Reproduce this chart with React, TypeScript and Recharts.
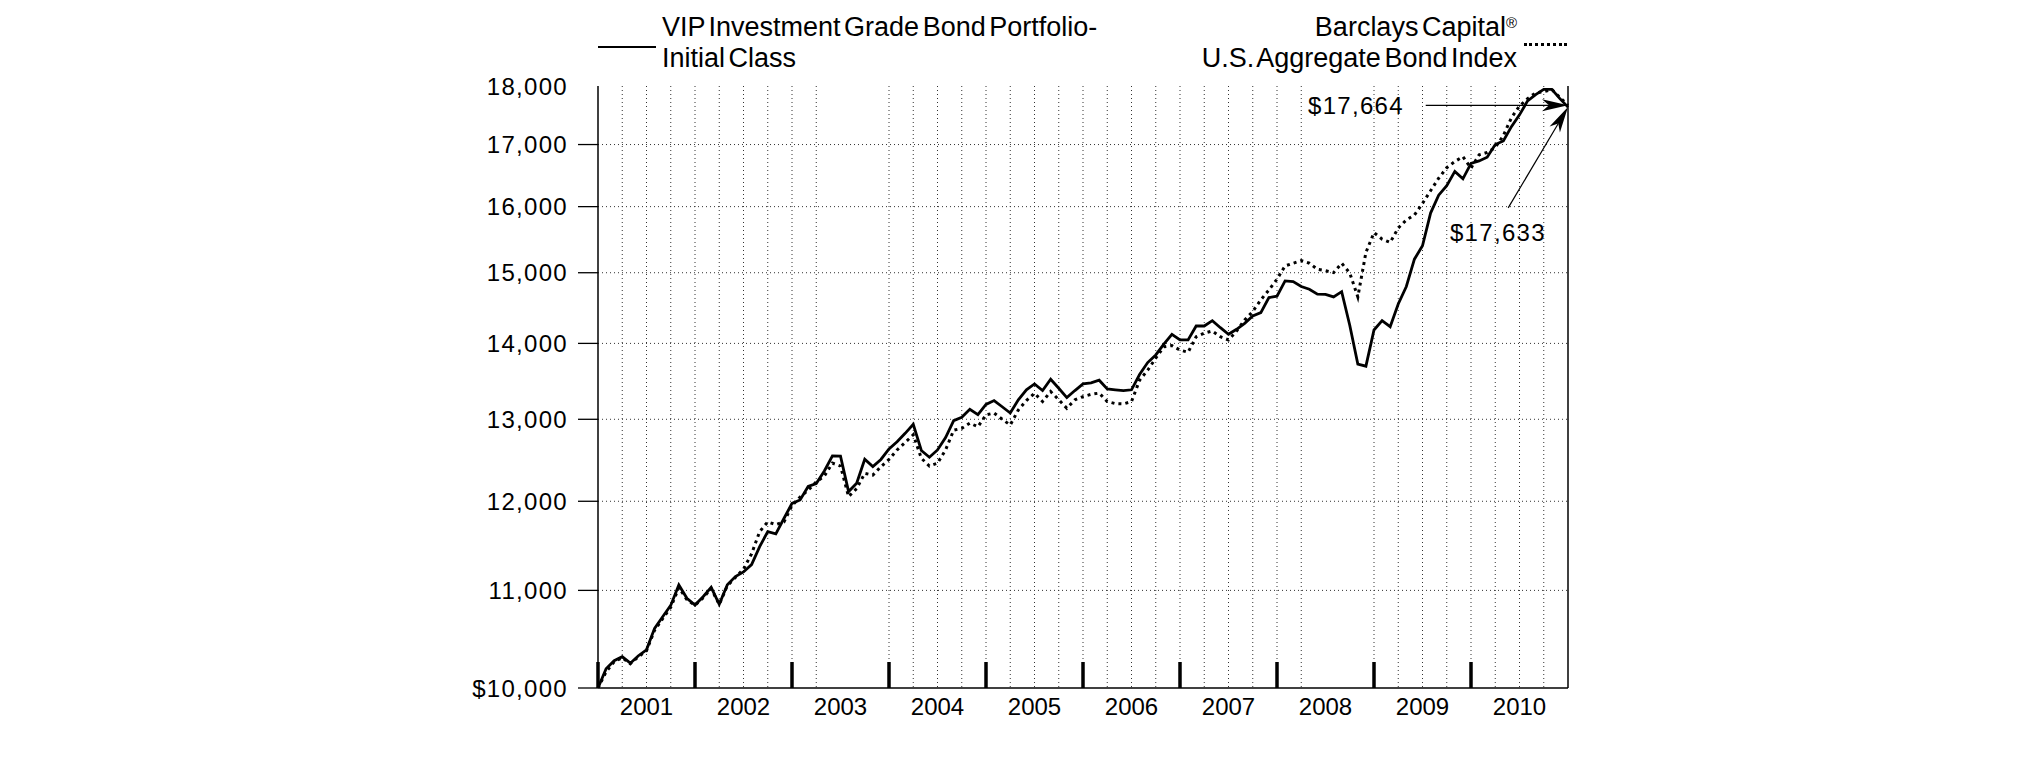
import { LineChart, Line, XAxis, YAxis, CartesianGrid, ReferenceLine, ReferenceDot } from 'recharts'

// month index 0 = Dec 2000 ... 120 = Dec 2010
const months = Array.from({ length: 121 }, (_, i) => i)

// VIP Investment Grade Bond Portfolio - Initial Class (growth of $10,000)
const vipValues = [
  10000, 10190, 10270, 10310, 10245, 10320, 10380, 10600, 10720, 10840, 11058, 10915,
  10844, 10932, 11033, 10852, 11060, 11150, 11200, 11280, 11480, 11649, 11623, 11800,
  11975, 12015, 12175, 12210, 12360, 12543, 12540, 12114, 12213, 12503, 12413, 12500,
  12630, 12719, 12823, 12937, 12610, 12527, 12617, 12770, 12983, 13026, 13128, 13060,
  13190, 13240, 13160, 13080, 13250, 13380, 13457, 13370, 13519, 13400, 13278, 13370,
  13457, 13470, 13506, 13392, 13380, 13370, 13380, 13580, 13740, 13843, 13990, 14125,
  14047, 14047, 14240, 14240, 14314, 14216, 14125, 14194, 14277, 14380, 14427, 14640,
  14660, 14881, 14870, 14800, 14760, 14690, 14687, 14650, 14725, 14250, 13720, 13692,
  14184, 14314, 14230, 14550, 14800, 15200, 15400, 15900, 16180, 16330, 16560, 16440,
  16690, 16730, 16790, 17000, 17060, 17300, 17500, 17740, 17850, 17940, 17940, 17780,
  17633,
]

// Barclays Capital U.S. Aggregate Bond Index
const aggValues = [
  10000, 10160, 10260, 10300, 10240, 10310, 10370, 10580, 10700, 10820, 11030, 10900,
  10840, 10920, 11020, 10850, 11050, 11140, 11230, 11400, 11650, 11760, 11730, 11760,
  11950, 12050, 12130, 12230, 12300, 12455, 12420, 12055, 12150, 12332, 12310, 12413,
  12500, 12617, 12710, 12805, 12515, 12420, 12455, 12617, 12862, 12885, 12951, 12905,
  13056, 13080, 13000, 12928, 13119, 13240, 13335, 13227, 13357, 13250, 13141, 13250,
  13291, 13320, 13337, 13227, 13200, 13197, 13227, 13506, 13638, 13799, 13953, 13970,
  13908, 13880, 14091, 14140, 14170, 14091, 14047, 14170, 14323, 14443, 14608, 14750,
  14906, 15100, 15140, 15179, 15140, 15051, 15030, 15001, 15140, 14996, 14650, 15300,
  15600, 15500, 15450, 15670, 15794, 15870, 16050, 16250, 16450, 16620, 16720, 16800,
  16613, 16830, 16870, 16950, 17150, 17450, 17650, 17780, 17880, 17900, 17940, 17800,
  17664,
]

const years = ['2001', '2002', '2003', '2004', '2005', '2006', '2007', '2008', '2009', '2010']
const yTicks = [10000, 11000, 12000, 13000, 14000, 15000, 16000, 17000, 18000]
const hGrid = [11000, 12000, 13000, 14000, 15000, 16000, 17000]
const skippedQuarters = [30, 33, 90, 93]
const vGrid = months.filter((m) => m > 0 && m < 120 && m % 3 === 0 && !skippedQuarters.includes(m))
const yearStarts = years.map((_, i) => i * 12)
const yearMids = years.map((_, i) => i * 12 + 6)

const data = months.map((m, i) => ({ m, vip: vipValues[i], agg: aggValues[i] }))

const FONT = "'Liberation Sans', Arial, Helvetica, sans-serif"

const fmt = (v: number) => {
  const s = String(v).replace(/\B(?=(\d{3})+(?!\d))/g, ',')
  return v === 10000 ? '$' + s : s
}

function YTick(props: any) {
  const { x, y, payload } = props
  const v = payload.value
  return (
    <g>
      {v !== 18000 && <line x1={x - 20} x2={x} y1={y} y2={y} stroke="#000" strokeWidth={1.3} />}
      <text x={x - 30} y={y} textAnchor="end" dominantBaseline="central" fontSize={24} letterSpacing={1.3} fill="#000" fontFamily={FONT}>
        {fmt(v)}
      </text>
    </g>
  )
}

function XTick(props: any) {
  const { x, y, payload } = props
  const idx = yearMids.indexOf(payload.value)
  return (
    <text x={x} y={y + 27} textAnchor="middle" fontSize={24} fill="#000" fontFamily={FONT}>
      {years[idx]}
    </text>
  )
}

// thick year separator ticks at bottom
function YearTick(props: any) {
  const { x1, y1, y2 } = props
  const yb = Math.max(y1, y2)
  return <line x1={x1} x2={x1} y1={yb - 26} y2={yb} stroke="#000" strokeWidth={3.5} />
}

function Arrow(props: any) {
  const { x1, y1, x2, y2 } = props
  const dx = x2 - x1
  const dy = y2 - y1
  const len = Math.hypot(dx, dy) || 1
  const ux = dx / len
  const uy = dy / len
  const L = 26
  const W = 6
  const N = 19
  const bx = x2 - ux * L
  const by = y2 - uy * L
  const nx = x2 - ux * N
  const ny = y2 - uy * N
  const px = -uy
  const py = ux
  const pts = `${x2},${y2} ${bx + px * W},${by + py * W} ${nx},${ny} ${bx - px * W},${by - py * W}`
  return (
    <g>
      <line x1={x1} y1={y1} x2={nx} y2={ny} stroke="#000" strokeWidth={1.2} />
      <polygon points={pts} fill="#000" />
    </g>
  )
}

const noteText = (label: string, anchor: 'start' | 'end') => (p: any) => (
  <text x={p.cx} y={p.cy} textAnchor={anchor} dominantBaseline="central" fontSize={24} letterSpacing={1.3} fill="#000" fontFamily={FONT}>
    {label}
  </text>
)

export default function App() {
  return (
    <div style={{ position: 'absolute', left: 0, top: 0, width: 2025, height: 761, background: '#fff', fontFamily: FONT }}>
      {/* legend */}
      <div style={{ position: 'absolute', left: 598, top: 46, width: 58, height: 0, borderTop: '2.5px solid #000' }} />
      <div style={{ position: 'absolute', left: 662, top: 12, fontSize: 27, lineHeight: '31px', color: '#000', wordSpacing: -4 }}>
        VIP Investment Grade Bond Portfolio-<br />Initial Class
      </div>
      <div style={{ position: 'absolute', right: 2025 - 1517, top: 12, fontSize: 27, lineHeight: '31px', color: '#000', textAlign: 'right', wordSpacing: -4 }}>
        Barclays Capital<sup style={{ fontSize: 15, verticalAlign: 'top', lineHeight: '22px' }}>®</sup>
        <br />U.S. Aggregate Bond Index
      </div>
      <div style={{ position: 'absolute', left: 1524, top: 43, width: 43, height: 0, borderTop: '3px dotted #000' }} />

      <LineChart width={2025} height={761} data={data} margin={{ top: 86, right: 457, bottom: 43, left: 538 }}>
        <CartesianGrid
          horizontalValues={hGrid}
          verticalValues={vGrid}
          stroke="#333"
          strokeDasharray="1 3"
          strokeWidth={1}
        />
        <XAxis
          dataKey="m"
          type="number"
          domain={[0, 120]}
          ticks={yearMids}
          interval={0}
          height={30}
          tickLine={false}
          tickSize={0}
          tickMargin={0}
          axisLine={{ stroke: '#000', strokeWidth: 1.5 }}
          tick={<XTick />}
        />
        <YAxis
          type="number"
          scale="log"
          domain={[10000, 18000]}
          allowDataOverflow
          ticks={yTicks}
          interval={0}
          width={60}
          tickLine={false}
          tickSize={0}
          tickMargin={0}
          axisLine={{ stroke: '#000', strokeWidth: 1.5 }}
          tick={<YTick />}
        />
        <Line type="linear" dataKey="agg" stroke="#000" strokeWidth={3} strokeDasharray="3 4" dot={false} isAnimationActive={false} />
        <Line type="linear" dataKey="vip" stroke="#000" strokeWidth={2.8} dot={false} isAnimationActive={false} />
        <ReferenceLine x={120} stroke="#000" strokeWidth={1.5} ifOverflow="visible" />
        {yearStarts.map((m) => (
          <ReferenceLine key={m} x={m} ifOverflow="visible" shape={<YearTick />} />
        ))}
        <ReferenceLine
          segment={[{ x: 102.4, y: aggValues[120] }, { x: 120, y: aggValues[120] }]}
          ifOverflow="visible"
          shape={<Arrow />}
        />
        <ReferenceLine
          segment={[{ x: 112.6, y: 15980 }, { x: 120, y: vipValues[120] }]}
          ifOverflow="visible"
          shape={<Arrow />}
        />
        <ReferenceDot x={99.7} y={aggValues[120]} r={0} ifOverflow="visible" shape={noteText('$' + fmt(aggValues[120]), 'end')} />
        <ReferenceDot x={105.4} y={15600} r={0} ifOverflow="visible" shape={noteText('$' + fmt(vipValues[120]), 'start')} />
      </LineChart>
    </div>
  )
}
